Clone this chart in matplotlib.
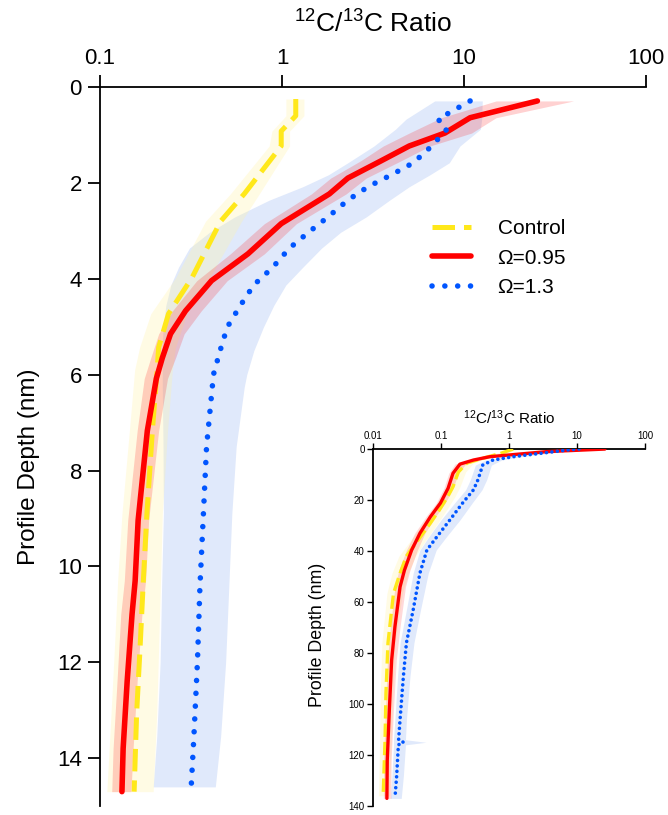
import matplotlib
matplotlib.use("Agg")
import matplotlib.pyplot as plt

plt.rcParams['font.family'] = ['Liberation Sans', 'DejaVu Sans']
plt.rcParams['mathtext.fontset'] = 'custom'
plt.rcParams['mathtext.rm'] = 'Liberation Sans'
plt.rcParams['mathtext.default'] = 'regular'

# ---------------- main panel data ----------------
ctrl_depth = [0.25, 0.6, 0.92, 1.23, 2.23, 2.8, 3.98, 4.73, 5.43, 5.9, 7.17, 8.9, 10.3, 11.7, 13.06, 14.7]
ctrl_ratio = [1.19, 1.19, 0.99, 0.99, 0.62, 0.46, 0.32, 0.238, 0.21, 0.206, 0.194, 0.181, 0.173, 0.166, 0.159, 0.154]
ctrl_lo = [1.05, 1.05, 0.88, 0.85, 0.52, 0.38, 0.26, 0.19, 0.165, 0.155, 0.145, 0.132, 0.125, 0.12, 0.115, 0.109]
ctrl_hi = [1.32, 1.32, 1.1, 1.1, 0.75, 0.6, 0.40, 0.30, 0.26, 0.25, 0.235, 0.22, 0.215, 0.21, 0.205, 0.196]

red_depth = [0.29, 0.64, 0.96, 1.23, 1.54, 1.9, 2.23, 2.85, 3.48, 4.04, 4.67, 5.15, 5.65, 6.08, 7.17, 9.04, 10.3, 11.0, 12.4, 13.8, 14.7]
red_ratio = [25.3, 10.8, 7.85, 5.0, 3.5, 2.3, 1.82, 0.99, 0.65, 0.41, 0.295, 0.244, 0.22, 0.204, 0.182, 0.162, 0.156, 0.15, 0.141, 0.134, 0.132]
red_lo = [15, 7.5, 5.0, 3.6, 2.7, 1.85, 1.45, 0.8, 0.52, 0.34, 0.25, 0.21, 0.19, 0.175, 0.16, 0.142, 0.136, 0.13, 0.124, 0.118, 0.116]
red_hi = [40, 15, 11, 6.5, 4.5, 2.9, 2.25, 1.2, 0.8, 0.5, 0.36, 0.29, 0.26, 0.235, 0.21, 0.185, 0.178, 0.17, 0.16, 0.152, 0.148]

blue_depth = [0.29, 0.67, 0.88, 1.23, 1.58, 1.83, 2.08, 2.36, 2.71, 3.03, 3.36, 3.76, 4.13, 4.56, 5.01, 5.5, 6.0, 6.26, 7.5, 8.9, 10.43, 12.0, 13.55, 14.6]
blue_ratio = [10.8, 7.2, 8.05, 6.65, 5.27, 4.0, 2.97, 2.3, 1.79, 1.40, 1.10, 0.89, 0.70, 0.59, 0.50, 0.457, 0.42, 0.414, 0.385, 0.37, 0.354, 0.343, 0.328, 0.317]
blue_lo = [6.9, 4.8, 4.2, 3.2, 2.3, 1.8, 1.3, 0.85, 0.55, 0.40, 0.31, 0.27, 0.245, 0.23, 0.222, 0.22, 0.22, 0.22, 0.222, 0.223, 0.218, 0.214, 0.205, 0.196]
blue_hi = [12.6, 12.5, 12.3, 9.5, 8.3, 6.5, 5.0, 3.9, 2.9, 2.1, 1.65, 1.3, 1.05, 0.9, 0.79, 0.7, 0.64, 0.62, 0.56, 0.53, 0.51, 0.49, 0.46, 0.43]

main_xticks = [0.1, 1, 10, 100]
main_xticklabels = ['0.1', '1', '10', '100']
main_yticks = [0, 2, 4, 6, 8, 10, 12, 14]

# ---------------- inset data ----------------
in_ctrl_depth = [0, 1.7, 3.6, 5.5, 9, 14.8, 18.7, 24, 29, 35.7, 42, 48.7, 56.6, 76, 95.7, 115, 136]
in_ctrl_ratio = [1.15, 0.75, 0.41, 0.24, 0.18, 0.15, 0.125, 0.094, 0.07, 0.046, 0.031, 0.025, 0.020, 0.0166, 0.0155, 0.015, 0.0141]
in_ctrl_lo = [1.0, 0.62, 0.34, 0.2, 0.15, 0.12, 0.1, 0.075, 0.055, 0.036, 0.024, 0.019, 0.016, 0.0135, 0.0128, 0.0125, 0.012]
in_ctrl_hi = [1.35, 0.9, 0.5, 0.3, 0.23, 0.19, 0.16, 0.12, 0.09, 0.06, 0.042, 0.033, 0.027, 0.021, 0.0195, 0.0185, 0.0175]

in_red_depth = [0, 1.0, 3.0, 4.3, 5.9, 9.5, 15.4, 21.2, 26.5, 33, 39.6, 47.5, 54, 69.7, 82.7, 102, 122, 137]
in_red_ratio = [25.7, 3.6, 0.52, 0.30, 0.19, 0.15, 0.127, 0.098, 0.07, 0.049, 0.037, 0.029, 0.025, 0.021, 0.0188, 0.0174, 0.0162, 0.016]
in_red_lo = [20, 2.5, 0.42, 0.25, 0.16, 0.13, 0.11, 0.085, 0.06, 0.041, 0.031, 0.024, 0.021, 0.018, 0.0163, 0.0152, 0.0143, 0.0142]
in_red_hi = [32, 5, 0.65, 0.37, 0.23, 0.18, 0.15, 0.115, 0.083, 0.058, 0.045, 0.035, 0.030, 0.025, 0.022, 0.020, 0.0185, 0.0183]

in_blue_depth = [0, 0.4, 1.7, 3, 4.3, 6.3, 12, 16, 21, 27.8, 34.4, 39.6, 48.6, 63, 76, 89, 106, 114, 115, 116, 128, 137]
in_blue_ratio = [10.7, 7.1, 2.86, 1.15, 0.58, 0.41, 0.35, 0.30, 0.21, 0.135, 0.087, 0.062, 0.049, 0.039, 0.031, 0.028, 0.025, 0.0238, 0.028, 0.0236, 0.0223, 0.021]
in_blue_lo = [8, 5.5, 2.2, 0.9, 0.45, 0.32, 0.27, 0.23, 0.16, 0.1, 0.066, 0.049, 0.039, 0.031, 0.025, 0.023, 0.021, 0.020, 0.020, 0.020, 0.019, 0.018]
in_blue_hi = [13.5, 9, 3.7, 1.5, 0.78, 0.55, 0.47, 0.40, 0.29, 0.19, 0.12, 0.085, 0.065, 0.05, 0.04, 0.035, 0.031, 0.030, 0.06, 0.030, 0.028, 0.026]

in_xticks = [0.01, 0.1, 1, 10, 100]
in_xticklabels = ['0.01', '0.1', '1', '10', '100']
in_yticks = [0, 20, 40, 60, 80, 100, 120, 140]

labels = ['Control', '\u03a9=0.95', '\u03a9=1.3']

YELLOW = '#ffe81a'
RED = '#ff0000'
BLUE = '#0055ff'
BLUE_BAND = '#e0e9fb'
YELLOW_BAND = '#fff3a8'
RED_BAND = '#ff0000'

title_txt = r'$^{12}$C/$^{13}$C Ratio'

fig = plt.figure(figsize=(6.68, 8.15), dpi=100)

# ---------------- main axes ----------------
ax = fig.add_axes([0.1497, 0.011, 0.8174, 0.8822])
ax.fill_betweenx(blue_depth, blue_lo, blue_hi, color=BLUE_BAND, lw=0, zorder=1)
ax.fill_betweenx(ctrl_depth, ctrl_lo, ctrl_hi, color=YELLOW_BAND, alpha=0.3, lw=0, zorder=2)
ax.fill_betweenx(red_depth, red_lo, red_hi, color=RED_BAND, alpha=0.18, lw=0, zorder=3)

ax.plot(ctrl_ratio, ctrl_depth, color=YELLOW, lw=3.6, dashes=(4.5, 1.8), dash_capstyle='butt', zorder=5, label=labels[0])
ax.plot(red_ratio, red_depth, color=RED, lw=4.0, solid_capstyle='round', solid_joinstyle='round', zorder=6, label=labels[1])
ax.plot(blue_ratio, blue_depth, color=BLUE, lw=4.0, linestyle=(0, (0.01, 2.3)), dash_capstyle='round', zorder=7, label=labels[2])

ax.set_xscale('log')
ax.set_xlim(0.1, 100)
ax.set_ylim(15, 0)
ax.xaxis.tick_top()
ax.xaxis.set_label_position('top')
ax.set_xticks(main_xticks)
ax.set_xticklabels(main_xticklabels)
ax.xaxis.set_minor_locator(matplotlib.ticker.NullLocator())
ax.set_yticks(main_yticks)
for s in ['right', 'bottom']:
    ax.spines[s].set_visible(False)
for s in ['left', 'top']:
    ax.spines[s].set_linewidth(1.3)
ax.tick_params(axis='both', which='major', labelsize=16, length=9, width=1.3, direction='out', pad=4)
ax.set_xlabel(title_txt, fontsize=19, labelpad=11)
ax.set_ylabel('Profile Depth (nm)', fontsize=17.5)
ax.yaxis.set_label_coords(-0.11, 0.4715)
ax.patch.set_alpha(0)

leg = ax.legend(loc='upper left', bbox_to_anchor=(0.608, 0.816), frameon=False, fontsize=15,
                handlelength=1.85, handletextpad=1.3, labelspacing=0.5, borderpad=0, borderaxespad=0)

# ---------------- inset axes ----------------
ai = fig.add_axes([0.5584, 0.011, 0.4072, 0.438])
ai.fill_betweenx(in_blue_depth, in_blue_lo, in_blue_hi, color=BLUE_BAND, lw=0, zorder=1)
ai.fill_betweenx(in_ctrl_depth, in_ctrl_lo, in_ctrl_hi, color=YELLOW_BAND, alpha=0.3, lw=0, zorder=2)
ai.fill_betweenx(in_red_depth, in_red_lo, in_red_hi, color=RED_BAND, alpha=0.15, lw=0, zorder=3)
ai.plot(in_ctrl_ratio, in_ctrl_depth, color=YELLOW, lw=2.4, dashes=(4, 1.5), zorder=5)
ai.plot(in_red_ratio, in_red_depth, color=RED, lw=2.4, solid_capstyle='round', zorder=6)
ai.plot(in_blue_ratio, in_blue_depth, color=BLUE, lw=2.6, linestyle=(0, (0.01, 1.5)), dash_capstyle='round', zorder=7)
ai.set_xscale('log')
ai.set_xlim(0.01, 100)
ai.set_ylim(140, 0)
ai.xaxis.tick_top()
ai.xaxis.set_label_position('top')
ai.set_xticks(in_xticks)
ai.set_xticklabels(in_xticklabels)
ai.xaxis.set_minor_locator(matplotlib.ticker.NullLocator())
ai.set_yticks(in_yticks)
for s in ['right', 'bottom']:
    ai.spines[s].set_visible(False)
for s in ['left', 'top']:
    ai.spines[s].set_linewidth(1.3)
ai.tick_params(axis='both', which='major', labelsize=7, length=4, width=1.0, pad=2)
ai.set_xlabel(title_txt, fontsize=11, labelpad=5)
ai.set_ylabel('Profile Depth (nm)', fontsize=12.8)
ai.yaxis.set_label_coords(-0.173, 0.479)
ai.patch.set_alpha(0)

fig.savefig('out.png', dpi=100)
